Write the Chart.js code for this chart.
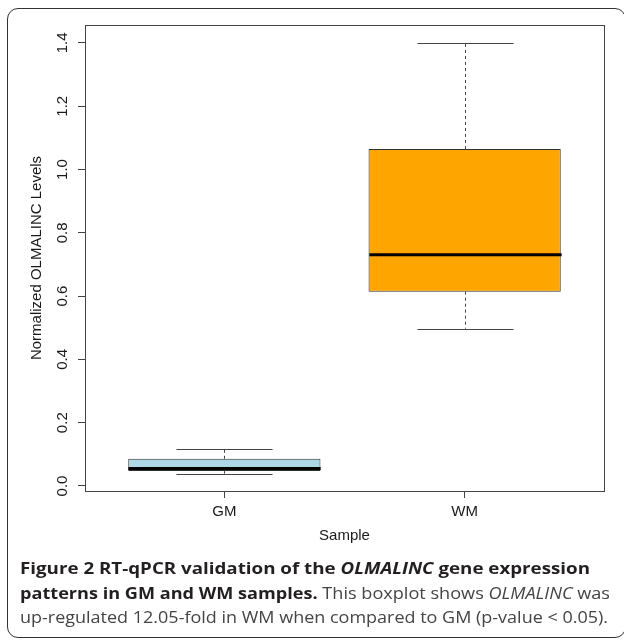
<!DOCTYPE html>
<html>
<head>
<meta charset="utf-8">
<script src="https://cdn.jsdelivr.net/npm/chart.js@4.4.1/dist/chart.umd.min.js"></script>
<style>
  html, body { margin: 0; padding: 0; background: #fff; }
  body { width: 624px; height: 642px; position: relative; overflow: hidden; }
  #frame { position: absolute; left: 7px; top: 8px; width: 619px; height: 630px;
           border: 1.5px solid #333; border-radius: 11px; box-sizing: border-box; }
  #chartBox { position: absolute; left: 0; top: 0; width: 624px; height: 560px; }
  #caption { position: absolute; left: 20px; top: 556px; font-family: "Open Sans", sans-serif;
             font-size: 16.5px; line-height: 24.5px; color: #231f20; }
  .line { display: inline-block; white-space: nowrap; transform-origin: left center; }
  .light { color: #444; }
</style>
</head>
<body>
<div id="frame"></div>
<div id="chartBox"><canvas id="boxChart" width="624" height="560"></canvas></div>
<div id="caption">
  <span class="line" data-w="570"><b>Figure 2 RT-qPCR validation of the <i>OLMALINC</i> gene expression</b></span><br>
  <span class="line" data-w="590"><b>patterns in GM and WM samples.</b><span class="light"> This boxplot shows <i>OLMALINC</i> was</span></span><br>
  <span class="line light" data-w="588">up-regulated 12.05-fold in WM when compared to GM (p-value &lt; 0.05).</span>
</div>
<script>
const categories = ['GM', 'WM'];
const lowerWhisker = [0.039, 0.497];
const q1 = [0.047, 0.614];
const median = [0.055, 0.731];
const q3 = [0.086, 1.065];
const upperWhisker = [0.117, 1.401];
const boxColors = ['#ADD8E6', '#FFA500'];
const yTicks = [0, 0.2, 0.4, 0.6, 0.8, 1.0, 1.2, 1.4];
const yTickLabels = ['0.0', '0.2', '0.4', '0.6', '0.8', '1.0', '1.2', '1.4'];

const axisFont = { family: '"Liberation Sans", Arial, sans-serif', size: 15 };
const ink = '#1a1a1a';
const lineGray = '#444';

// whiskers, caps, medians and the plot frame
const boxplotParts = {
    id: 'boxplotParts',
    afterDatasetsDraw(chart) {
        const { ctx, scales: { x, y }, chartArea: a } = chart;
        const bars = chart.getDatasetMeta(0).data;
        ctx.save();
        categories.forEach((cat, i) => {
            const cx = Math.round(x.getPixelForValue(i + 1)) + 0.5;
            const half = bars[i].width / 2;
            const capHalf = half / 2;

            ctx.strokeStyle = lineGray;
            ctx.lineWidth = 1;
            ctx.setLineDash([3, 3]);
            ctx.beginPath();
            ctx.moveTo(cx, y.getPixelForValue(q3[i]));
            ctx.lineTo(cx, y.getPixelForValue(upperWhisker[i]));
            ctx.moveTo(cx, y.getPixelForValue(q1[i]));
            ctx.lineTo(cx, y.getPixelForValue(lowerWhisker[i]));
            ctx.stroke();
            ctx.setLineDash([]);

            ctx.beginPath();
            const yu = Math.round(y.getPixelForValue(upperWhisker[i])) + 0.5;
            const yl = Math.round(y.getPixelForValue(lowerWhisker[i])) + 0.5;
            ctx.moveTo(cx - capHalf, yu); ctx.lineTo(cx + capHalf, yu);
            ctx.moveTo(cx - capHalf, yl); ctx.lineTo(cx + capHalf, yl);
            ctx.stroke();

            ctx.strokeStyle = '#000';
            ctx.lineWidth = 3;
            ctx.beginPath();
            const ym = y.getPixelForValue(median[i]);
            ctx.moveTo(cx - half, ym);
            ctx.lineTo(cx + half, ym);
            ctx.stroke();
        });
        ctx.strokeStyle = lineGray;
        ctx.lineWidth = 1;
        ctx.strokeRect(a.left + 0.5, a.top + 0.5, a.right - a.left, a.bottom - a.top);
        ctx.restore();
    }
};

const ctx = document.getElementById('boxChart').getContext('2d');
new Chart(ctx, {
    type: 'bar',
    data: {
        datasets: [{
            data: categories.map((c, i) => ({ x: i + 1, y: [q1[i], q3[i]] })),
            backgroundColor: boxColors,
            borderColor: '#333',
            borderWidth: 1,
            borderSkipped: false,
            categoryPercentage: 0.8,
            barPercentage: 1.0
        }]
    },
    options: {
        responsive: false,
        animation: false,
        layout: { padding: { top: 25, right: 20, left: 0, bottom: 0 } },
        plugins: { legend: { display: false }, tooltip: { enabled: false } },
        scales: {
            x: {
                type: 'linear',
                min: 0.42,
                max: 2.58,
                offset: false,
                afterBuildTicks: scale => { scale.ticks = categories.map((c, i) => ({ value: i + 1 })); },
                afterFit: scale => { scale.height = 69; },
                ticks: {
                    autoSkip: false,
                    padding: 5,
                    color: ink,
                    font: axisFont,
                    callback: (value, index) => categories[index]
                },
                grid: { display: true, offset: false, drawOnChartArea: false, drawTicks: true, tickLength: 7, tickColor: lineGray },
                border: { display: true, color: lineGray },
                title: { display: true, text: 'Sample', color: ink, font: axisFont, padding: { top: 0, bottom: 15 } }
            },
            y: {
                type: 'linear',
                min: -0.0158,
                max: 1.4566,
                afterBuildTicks: scale => { scale.ticks = yTicks.map(v => ({ value: v })); },
                afterFit: scale => { scale.width = 85; },
                ticks: {
                    autoSkip: false,
                    minRotation: 90,
                    maxRotation: 90,
                    crossAlign: 'center',
                    padding: 5,
                    color: ink,
                    font: axisFont,
                    callback: (value, index) => yTickLabels[index]
                },
                grid: { display: true, drawOnChartArea: false, drawTicks: true, tickLength: 7, tickColor: lineGray },
                border: { display: true, color: lineGray },
                title: { display: true, text: 'Normalized OLMALINC Levels', color: ink, font: axisFont, padding: { top: 28, bottom: 0 } }
            }
        }
    },
    plugins: [boxplotParts]
});

// squeeze caption lines to the widths of the original typesetting
function fitCaption() {
    document.querySelectorAll('#caption .line').forEach(el => {
        el.style.transform = 'none';
        const target = parseFloat(el.dataset.w);
        const w = el.getBoundingClientRect().width;
        if (w > 0) el.style.transform = 'scaleX(' + (target / w) + ')';
    });
}
fitCaption();
if (document.fonts && document.fonts.ready) document.fonts.ready.then(fitCaption);
</script>
</body>
</html>
